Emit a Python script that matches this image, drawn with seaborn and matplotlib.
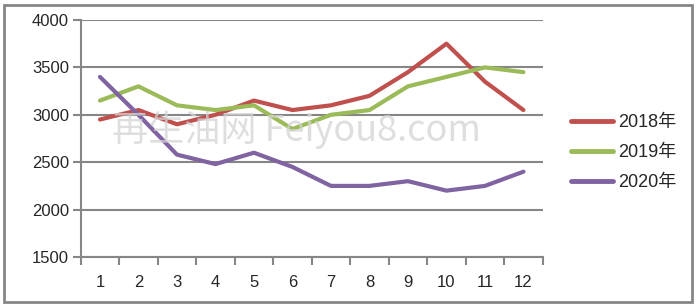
import matplotlib
matplotlib.use("Agg")
import matplotlib.pyplot as plt
import seaborn as sns
import pandas as pd
from matplotlib.patches import Rectangle

months = list(range(1, 13))
series_names = ["2018年", "2019年", "2020年"]
v2018 = [2950, 3050, 2900, 3000, 3150, 3050, 3100, 3200, 3450, 3750, 3350, 3050]
v2019 = [3150, 3300, 3100, 3050, 3100, 2850, 3000, 3050, 3300, 3400, 3500, 3450]
v2020 = [3400, 3000, 2580, 2480, 2600, 2450, 2250, 2250, 2300, 2200, 2250, 2400]
colors = ["#C0504D", "#9BBB59", "#8064A2"]
y_ticks = [1500, 2000, 2500, 3000, 3500, 4000]

df = pd.DataFrame({
    "month": months * 3,
    "value": v2018 + v2019 + v2020,
    "series": [series_names[0]] * 12 + [series_names[1]] * 12 + [series_names[2]] * 12,
})

sns.set_style("white")
plt.rcParams["font.family"] = ["Liberation Sans", "Noto Sans CJK SC", "DejaVu Sans"]

fig = plt.figure(figsize=(6.97, 3.08), dpi=100)
ax = fig.add_axes([80.7 / 697, 1 - 257 / 308, (542.7 - 80.7) / 697, (257 - 20) / 308])

sns.lineplot(data=df, x="month", y="value", hue="series", palette=colors,
             linewidth=3, ax=ax, legend=True)
for ln in ax.lines:
    ln.set_solid_capstyle("round")
    ln.set_solid_joinstyle("round")

gray = "#868686"
ax.set_xlim(0.5, 12.5)
ax.set_ylim(1500, 4000)
ax.set_yticks(y_ticks)
ax.set_yticklabels([str(t) for t in y_ticks], fontsize=12)
ax.yaxis.grid(True, color=gray, linewidth=1.5)
ax.set_axisbelow(True)

ax.set_xticks([i + 0.5 for i in range(0, 13)])
ax.set_xticklabels([])
ax.set_xticks(months, minor=True)
ax.set_xticklabels([str(m) for m in months], minor=True, fontsize=12)
ax.tick_params(axis="x", which="major", direction="out", length=6, width=1.5, color=gray, bottom=True)
ax.tick_params(axis="x", which="minor", length=0, pad=13, bottom=True)
ax.tick_params(axis="y", direction="out", length=5.5, width=1.5, color=gray, left=True, pad=3)

for s in ["top", "right"]:
    ax.spines[s].set_visible(False)
for s in ["left", "bottom"]:
    ax.spines[s].set_color(gray)
    ax.spines[s].set_linewidth(1.5)
ax.set_xlabel("")
ax.set_ylabel("")

handles, labels = ax.get_legend_handles_labels()
leg = ax.legend(handles, labels, loc="center left", bbox_to_anchor=(562 / 697, 1 - 153 / 308),
                bbox_transform=fig.transFigure, frameon=False, fontsize=13,
                handlelength=2.3, handletextpad=0.3, labelspacing=0.72, borderpad=0)
for h in leg.legend_handles:
    h.set_linewidth(3.5)

ax.text(0.068, 0.535, "再生油网 Feiyou8.com", transform=ax.transAxes,
        fontsize=26, color="#D4D4D4", alpha=0.75, family=["Noto Sans CJK SC", "DejaVu Sans"],
        va="center", ha="left", zorder=10)

fig.patches.append(Rectangle((4 / 697, 1 - 302 / 308), (691.5 - 4) / 697, (302 - 5) / 308,
                             transform=fig.transFigure, fill=False, edgecolor=gray,
                             linewidth=2, zorder=0))

fig.savefig("out.png", dpi=100)
